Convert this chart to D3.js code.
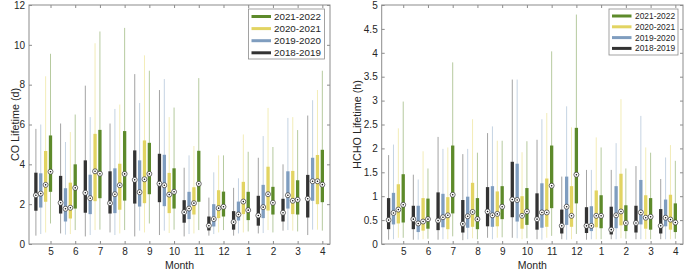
<!DOCTYPE html>
<html><head><meta charset="utf-8">
<script src="https://cdn.jsdelivr.net/npm/d3@7"></script>
<style>body{margin:0;background:#fff}svg{display:block;font-family:"Liberation Sans",Arial,sans-serif}</style>
</head><body><svg id="c" width="685" height="270"></svg>
<script>
const months = ["5","6","7","8","9","10","11","12","1","2","3","4"];
const seriesNames = ["2018-2019","2019-2020","2020-2021","2021-2022"];
const seriesColors = ["#333333","#7f9dbf","#e2d462","#5d8a2a"];
const coTicks = [0,2,4,6,8,10,12];
const hchoTicks = [0,0.5,1,1.5,2,2.5,3,3.5,4,4.5,5];
// each entry: [low whisker, q1, median, q3, high whisker]
const co2018 = [[0.42,1.67,2.45,3.58,5.78],[0.53,1.53,2.07,3.42,6.05],[0.38,1.57,2.57,4.2,7.95],[0.58,1.53,2.05,3.65,6.05],[0.38,2.03,3.22,4.7,8.53],[0.45,2.1,3.03,4.53,7.73],[0.38,1.07,1.6,2.2,3.83],[0.42,0.68,0.92,1.38,2.33],[0.42,0.72,1.1,1.65,2.82],[0.53,0.92,1.43,2.42,4.33],[0.67,1.13,1.57,2.27,4.0],[0.45,1.33,2.27,3.47,6.45]];
const co2019 = [[0.5,1.83,2.53,3.55,6.0],[0.47,1.13,1.77,2.8,5.12],[0.45,1.5,2.3,3.48,6.37],[0.45,1.55,2.5,3.8,6.78],[0.67,1.88,2.6,4.2,7.08],[0.67,1.9,2.95,4.48,8.28],[0.5,1.25,1.78,2.62,4.45],[0.5,0.88,1.25,2.0,3.6],[0.53,1.18,1.48,2.13,3.3],[0.55,1.3,1.85,2.97,5.42],[0.7,1.78,2.45,3.65,6.33],[0.72,2.17,3.15,4.33,7.22]];
const co2020 = [[0.58,2.12,2.97,4.67,8.42],[0.5,1.28,1.82,3.08,5.62],[0.7,2.15,3.65,5.53,10.08],[0.53,1.72,2.95,4.03,7.0],[0.58,2.05,3.25,5.2,9.47],[0.55,1.55,2.48,3.57,6.37],[0.53,1.48,2.05,2.85,4.92],[0.58,1.3,1.8,2.7,4.45],[0.58,1.5,2.13,3.12,5.5],[0.7,1.68,2.5,3.88,6.83],[0.67,1.5,2.17,3.67,6.37],[0.72,2.0,3.15,4.47,7.73]];
const co2021 = [[1.03,2.62,3.63,5.45,9.55],[0.7,1.78,2.82,4.0,6.5],[0.72,2.3,3.53,5.73,10.67],[0.7,2.18,3.52,5.67,10.85],[1.03,2.5,3.52,5.08,8.7],[0.72,1.78,2.62,3.8,6.85],[0.7,2.12,3.02,4.68,8.33],[0.7,1.38,1.87,2.63,4.45],[0.63,1.2,1.7,2.62,4.63],[0.58,1.48,2.07,2.87,4.87],[0.63,1.48,2.22,3.2,5.72],[0.67,2.1,2.98,4.73,8.7]];
const hcho2018 = [[0.09,0.31,0.5,0.96,1.86],[0.09,0.31,0.52,0.8,1.45],[0.09,0.29,0.49,1.08,2.24],[0.08,0.24,0.42,0.92,1.88],[0.13,0.37,0.68,1.19,2.32],[0.13,0.56,0.93,1.72,3.44],[0.1,0.3,0.52,1.06,2.18],[0.1,0.22,0.38,0.72,1.41],[0.09,0.23,0.38,0.77,1.55],[0.1,0.2,0.3,0.78,1.55],[0.1,0.24,0.44,0.8,1.63],[0.1,0.22,0.38,0.73,1.36]];
const hcho2019 = [[0.1,0.41,0.65,1.07,2.08],[0.09,0.25,0.43,0.8,1.35],[0.1,0.35,0.56,1.05,1.99],[0.1,0.34,0.58,0.99,1.99],[0.1,0.36,0.6,1.21,2.46],[0.12,0.47,0.92,1.68,3.44],[0.09,0.34,0.66,1.27,2.61],[0.09,0.4,0.78,1.41,2.88],[0.1,0.27,0.38,0.79,1.55],[0.1,0.33,0.6,1.21,2.11],[0.1,0.41,0.66,1.34,2.68],[0.1,0.37,0.55,0.93,1.81]];
const hcho2020 = [[0.13,0.43,0.72,1.25,2.42],[0.1,0.28,0.47,0.96,1.94],[0.1,0.31,0.6,0.98,2.02],[0.12,0.36,0.67,1.28,2.61],[0.13,0.37,0.63,1.1,2.16],[0.1,0.32,0.59,1.0,1.92],[0.13,0.36,0.66,1.37,2.74],[0.1,0.36,0.59,1.21,2.44],[0.1,0.35,0.59,1.12,2.23],[0.12,0.39,0.68,1.47,3.03],[0.1,0.32,0.55,1.02,2.02],[0.1,0.3,0.51,1.03,2.07]];
const hcho2021 = [[0.13,0.45,0.82,1.46,2.98],[0.11,0.32,0.52,0.95,1.58],[0.16,0.64,1.03,2.06,3.8],[0.1,0.31,0.52,0.96,1.91],[0.14,0.52,0.78,1.21,2.16],[0.12,0.4,0.68,1.17,2.15],[0.17,0.75,1.22,2.06,4.03],[0.21,0.85,1.45,2.43,4.8],[0.1,0.33,0.59,1.02,2.02],[0.11,0.27,0.44,0.81,1.58],[0.1,0.3,0.57,0.96,1.91],[0.11,0.25,0.45,0.85,1.74]];

const svg = d3.select("#c");
const frameColor = "#8c8c8c", textColor = "#262626";

function panel(opts){
  const {x0,x1,y0,y1,series,yMax,ticks,yLabel,fmt,legend} = opts;
  const g = svg.append("g");
  const x = d3.scaleLinear().domain([-0.87,11.31]).range([x0,x1]);
  const y = d3.scaleLinear().domain([0,yMax]).range([y1,y0]);
  const bw = 3.3, step = 0.197;
  g.append("rect").attr("x",x0).attr("y",y0).attr("width",x1-x0).attr("height",y1-y0)
    .attr("fill","none").attr("stroke",frameColor).attr("stroke-width",1);
  const ax = (sel)=>{sel.select(".domain").remove();sel.selectAll("line").attr("stroke",frameColor);
    sel.selectAll("text").attr("fill",textColor).style("font-size","10px").style("font-family","'Liberation Sans',Arial,sans-serif");};
  g.append("g").attr("transform",`translate(0,${y1})`)
    .call(d3.axisBottom(x).tickValues(d3.range(12)).tickFormat(i=>months[i]).tickSize(-3).tickPadding(4)).call(ax);
  g.append("g").attr("transform",`translate(0,${y0})`)
    .call(d3.axisTop(x).tickValues(d3.range(12)).tickFormat("").tickSize(-3)).call(ax);
  g.append("g").attr("transform",`translate(${x0},0)`)
    .call(d3.axisLeft(y).tickValues(ticks).tickFormat(fmt).tickSize(-3).tickPadding(4)).call(ax);
  g.append("g").attr("transform",`translate(${x1},0)`)
    .call(d3.axisRight(y).tickValues(ticks).tickFormat("").tickSize(-3)).call(ax);
  series.forEach((data,s)=>{
    const col = seriesColors[s];
    const off = (s-3)*step;
    const gg = g.append("g");
    gg.selectAll("line.w").data(data).join("line")
      .attr("x1",(d,i)=>x(i+off)).attr("x2",(d,i)=>x(i+off))
      .attr("y1",d=>y(d[0])).attr("y2",d=>y(d[4]))
      .attr("stroke",col).attr("stroke-opacity",0.45).attr("stroke-width",1);
    gg.selectAll("rect").data(data).join("rect")
      .attr("x",(d,i)=>x(i+off)-bw/2).attr("width",bw)
      .attr("y",d=>y(d[3])).attr("height",d=>y(d[1])-y(d[3]))
      .attr("fill",col);
    gg.selectAll("circle.m").data(data).join("circle")
      .attr("cx",(d,i)=>x(i+off)).attr("cy",d=>y(d[2])).attr("r",2.5)
      .attr("fill","#fff").attr("stroke","#333").attr("stroke-width",0.7);
    gg.selectAll("circle.d").data(data).join("circle")
      .attr("cx",(d,i)=>x(i+off)).attr("cy",d=>y(d[2])).attr("r",0.8)
      .attr("fill","#111");
  });
  g.append("text").attr("x",(x0+x1)/2).attr("y",269).attr("text-anchor","middle")
    .attr("fill",textColor).style("font-size","10.5px").text("Month");
  g.append("text").attr("transform",`translate(${opts.titleX},${(y0+y1)/2}) rotate(-90)`)
    .attr("text-anchor","middle").attr("dy","0.35em")
    .attr("fill",textColor).style("font-size","10.8px").text(yLabel);
  const L = legend;
  const lg = g.append("g");
  lg.append("rect").attr("x",L.x).attr("y",L.y).attr("width",L.w).attr("height",L.h)
    .attr("fill","#fff").attr("stroke","#8c8c8c").attr("stroke-width",0.8);
  [3,2,1,0].forEach((s,k)=>{
    const yy = L.y + L.first + k*L.gap;
    lg.append("line").attr("x1",L.x+L.lx0).attr("x2",L.x+L.lx1).attr("y1",yy).attr("y2",yy)
      .attr("stroke",seriesColors[s]).attr("stroke-width",3);
    lg.append("text").attr("x",L.x+L.tx).attr("y",yy).attr("dy","0.35em")
      .attr("fill",textColor).style("font-size",L.fs+"px").text(seriesNames[s]);
  });
}

panel({x0:29,x1:330,y0:5,y1:244,series:[co2018,co2019,co2020,co2021],yMax:12,ticks:coTicks,
  yLabel:"CO Lifetime (d)",fmt:d3.format("d"),titleX:15,
  legend:{x:248.5,y:9,w:76,h:50,first:7.5,gap:12.1,lx0:3,lx1:22.5,tx:25.5,fs:9.8}});
panel({x0:381.7,x1:683,y0:5,y1:244,series:[hcho2018,hcho2019,hcho2020,hcho2021],yMax:5,ticks:hchoTicks,
  yLabel:"HCHO Lifetime (h)",fmt:d=>String(d),titleX:357,
  legend:{x:609,y:9,w:69,h:46,first:7,gap:10.8,lx0:3,lx1:22.5,tx:26,fs:8.4}});
</script></body></html>
